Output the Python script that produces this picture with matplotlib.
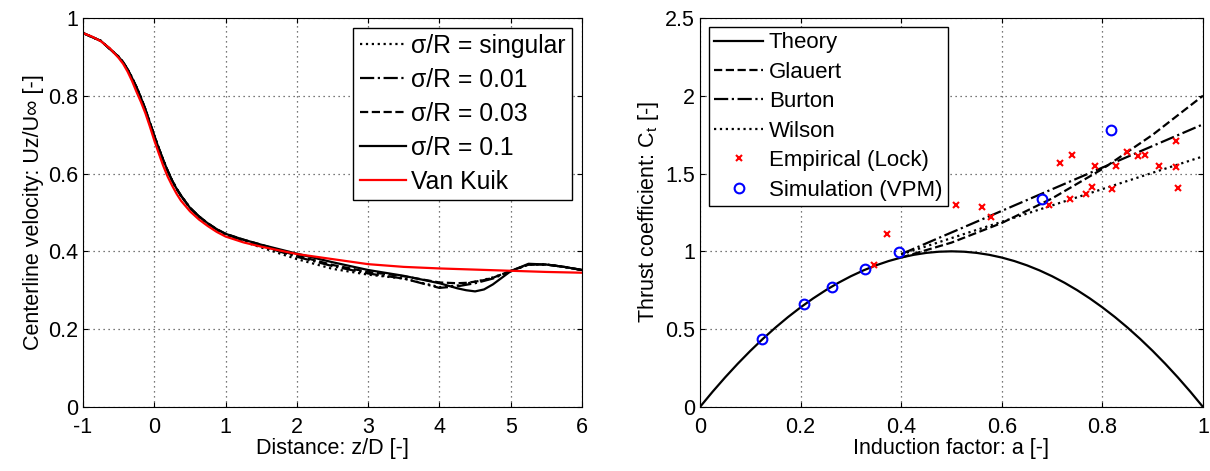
import matplotlib
matplotlib.use("Agg")
import matplotlib.pyplot as plt

plt.rcParams.update({
    "font.family": ["Liberation Sans", "DejaVu Sans"],
    "font.size": 15.5,
    "axes.unicode_minus": False,
    "xtick.direction": "in",
    "ytick.direction": "in",
    "xtick.top": True,
    "ytick.right": True,
    "xtick.major.pad": 7,
    "axes.linewidth": 0.8,
})

# ── Left panel: centerline velocity ──────────────────────────────────────────
z_vk = [-1.0, -0.875, -0.75, -0.625, -0.5, -0.4375, -0.375, -0.3125, -0.25,
        -0.1875, -0.125, -0.0625, 0.0, 0.0625, 0.125, 0.1875, 0.25, 0.3125,
        0.375, 0.5, 0.625, 0.75, 0.875, 1.0, 1.25, 1.5, 2.0, 2.5, 3.0, 3.5, 4.0,
        4.5, 5.0, 5.5, 6.0]
u_vk = [0.961, 0.952, 0.940, 0.922, 0.897, 0.882, 0.862, 0.838, 0.810, 0.784,
        0.755, 0.721, 0.685, 0.652, 0.620, 0.592, 0.569, 0.548, 0.530, 0.503,
        0.482, 0.465, 0.450, 0.438, 0.423, 0.412, 0.393, 0.380, 0.367, 0.360,
        0.356, 0.353, 0.350, 0.347, 0.345]

z_sim = [-1.0, -0.75, -0.5, -0.4375, -0.375, -0.3125, -0.25, -0.1875, -0.125,
         -0.0625, 0.0, 0.0625, 0.125, 0.1875, 0.25, 0.3125, 0.375, 0.5, 0.625,
         0.75, 0.875, 1.0, 1.25, 1.5, 2.0, 2.5, 3.0, 3.5, 4.0, 4.25, 4.375, 4.5,
         4.625, 4.75, 5.0, 5.25, 5.5, 5.75, 6.0]
u_s010 = [0.961, 0.941, 0.900, 0.886, 0.868, 0.846, 0.822, 0.795, 0.765, 0.731,
          0.697, 0.665, 0.635, 0.607, 0.582, 0.561, 0.543, 0.512, 0.490, 0.472,
          0.457, 0.445, 0.430, 0.417, 0.394, 0.372, 0.352, 0.337, 0.318, 0.305,
          0.300, 0.297, 0.302, 0.315, 0.349, 0.368, 0.366, 0.360, 0.352]
u_s003 = [0.961, 0.941, 0.900, 0.886, 0.868, 0.846, 0.822, 0.795, 0.765, 0.731,
          0.697, 0.665, 0.635, 0.607, 0.582, 0.561, 0.543, 0.512, 0.490, 0.472,
          0.457, 0.445, 0.430, 0.417, 0.389, 0.365, 0.347, 0.336, 0.320, 0.318,
          0.319, 0.322, 0.326, 0.332, 0.350, 0.366, 0.366, 0.360, 0.352]
u_s001 = [0.961, 0.941, 0.900, 0.886, 0.868, 0.846, 0.822, 0.795, 0.765, 0.731,
          0.697, 0.665, 0.635, 0.607, 0.582, 0.561, 0.543, 0.512, 0.490, 0.472,
          0.456, 0.444, 0.428, 0.414, 0.386, 0.362, 0.343, 0.330, 0.306, 0.310,
          0.314, 0.318, 0.324, 0.330, 0.349, 0.366, 0.366, 0.360, 0.352]
u_sing = [0.961, 0.941, 0.900, 0.886, 0.868, 0.846, 0.822, 0.795, 0.765, 0.731,
          0.697, 0.665, 0.635, 0.607, 0.582, 0.561, 0.543, 0.511, 0.489, 0.470,
          0.454, 0.442, 0.425, 0.410, 0.380, 0.355, 0.340, 0.330, 0.308, 0.312,
          0.317, 0.322, 0.327, 0.333, 0.349, 0.366, 0.366, 0.360, 0.352]

# ── Right panel: thrust coefficient ──────────────────────────────────────────
a_th = [0.0, 0.025, 0.05, 0.075, 0.1, 0.125, 0.15, 0.175, 0.2, 0.225, 0.25,
        0.275, 0.3, 0.325, 0.35, 0.375, 0.4, 0.425, 0.45, 0.475, 0.5, 0.525,
        0.55, 0.575, 0.6, 0.625, 0.65, 0.675, 0.7, 0.725, 0.75, 0.775, 0.8,
        0.825, 0.85, 0.875, 0.9, 0.925, 0.95, 0.975, 1.0]
ct_th = [0.0, 0.0975, 0.19, 0.2775, 0.36, 0.4375, 0.51, 0.5775, 0.64, 0.6975,
         0.75, 0.7975, 0.84, 0.8775, 0.91, 0.9375, 0.96, 0.9775, 0.99, 0.9975,
         1.0, 0.9975, 0.99, 0.9775, 0.96, 0.9375, 0.91, 0.8775, 0.84, 0.7975,
         0.75, 0.6975, 0.64, 0.5775, 0.51, 0.4375, 0.36, 0.2775, 0.19, 0.0975,
         0.0]

a_gl = [0.4, 0.5, 0.6, 0.7, 0.8, 0.9, 1.0]
ct_gl = [0.96, 1.056, 1.182, 1.34, 1.529, 1.749, 2.0]
a_bu = [0.4, 0.7, 1.0]
ct_bu = [0.982, 1.399, 1.816]
a_wi = [0.4, 0.6, 0.8, 1.0]
ct_wi = [0.98, 1.19, 1.40, 1.61]

a_lock = [0.345, 0.372, 0.508, 0.561, 0.579, 0.694, 0.715, 0.740, 0.736, 0.767,
          0.780, 0.785, 0.820, 0.828, 0.848, 0.871, 0.885, 0.913, 0.946, 0.946,
          0.951]
ct_lock = [0.913, 1.11, 1.298, 1.287, 1.219, 1.298, 1.566, 1.62, 1.339, 1.367,
           1.416, 1.551, 1.401, 1.551, 1.641, 1.613, 1.617, 1.551, 1.707, 1.544,
           1.407]

a_vpm = [0.124, 0.207, 0.262, 0.329, 0.396, 0.679, 0.818]
ct_vpm = [0.435, 0.662, 0.773, 0.887, 0.998, 1.339, 1.778]

fig = plt.figure(figsize=(12.1, 4.71), dpi=100)
ax1 = fig.add_axes([0.0686, 0.136, 0.4124, 0.826])
ax2 = fig.add_axes([0.5785, 0.136, 0.4157, 0.826])

lw = 1.6
ax1.plot(z_sim, u_sing, color="black", linestyle=":", linewidth=lw, label="σ/R = singular")
ax1.plot(z_sim, u_s001, color="black", linestyle="-.", linewidth=lw, label="σ/R = 0.01")
ax1.plot(z_sim, u_s003, color="black", linestyle="--", linewidth=lw, label="σ/R = 0.03")
ax1.plot(z_sim, u_s010, color="black", linestyle="-", linewidth=lw, label="σ/R = 0.1")
ax1.plot(z_vk, u_vk, color="red", linestyle="-", linewidth=lw, label="Van Kuik")
ax1.set_xlim(-1, 6)
ax1.set_ylim(0, 1)
ax1.set_xticks(range(-1, 7))
ax1.set_yticks([0, 0.2, 0.4, 0.6, 0.8, 1])
ax1.set_yticklabels(["0", "0.2", "0.4", "0.6", "0.8", "1"])
ax1.set_xlabel("Distance: z/D [-]", labelpad=0)
ax1.set_ylabel("Centerline velocity: Uz/U∞ [-]", labelpad=3)
ax1.grid(True, linestyle=(0, (1, 3)), color="black", linewidth=0.9, alpha=0.7)
ax1.legend(loc="upper right", fancybox=False, edgecolor="black", framealpha=1,
           fontsize=17.8, handlelength=1.9, handletextpad=0.2,
           borderaxespad=0.4, labelspacing=0.4, borderpad=0.25)

ax2.plot(a_th, ct_th, color="black", linestyle="-", linewidth=lw, label="Theory")
ax2.plot(a_gl, ct_gl, color="black", linestyle="--", linewidth=lw, label="Glauert")
ax2.plot(a_bu, ct_bu, color="black", linestyle="-.", linewidth=lw, label="Burton")
ax2.plot(a_wi, ct_wi, color="black", linestyle=":", linewidth=lw, label="Wilson")
ax2.plot(a_lock, ct_lock, linestyle="none", marker="x", color="red", markersize=5,
         markeredgewidth=1.5, label="Empirical (Lock)")
ax2.plot(a_vpm, ct_vpm, linestyle="none", marker="o", markerfacecolor="none",
         markeredgecolor="blue", markersize=7, markeredgewidth=1.5,
         label="Simulation (VPM)")
ax2.set_xlim(0, 1)
ax2.set_ylim(0, 2.5)
ax2.set_xticks([0, 0.2, 0.4, 0.6, 0.8, 1])
ax2.set_xticklabels(["0", "0.2", "0.4", "0.6", "0.8", "1"])
ax2.set_yticks([0, 0.5, 1, 1.5, 2, 2.5])
ax2.set_yticklabels(["0", "0.5", "1", "1.5", "2", "2.5"])
ax2.set_xlabel("Induction factor: a [-]", labelpad=0)
ax2.set_ylabel("Thrust coefficient: C$_\\mathregular{t}$ [-]", labelpad=3)
ax2.grid(True, linestyle=(0, (1, 3)), color="black", linewidth=0.9, alpha=0.7)
ax2.legend(loc="upper left", fancybox=False, edgecolor="black", framealpha=1,
           fontsize=16, handlelength=2.2, handletextpad=0.25,
           borderaxespad=0.4, labelspacing=0.38, borderpad=0.25)

fig.savefig("out.png", dpi=100)
